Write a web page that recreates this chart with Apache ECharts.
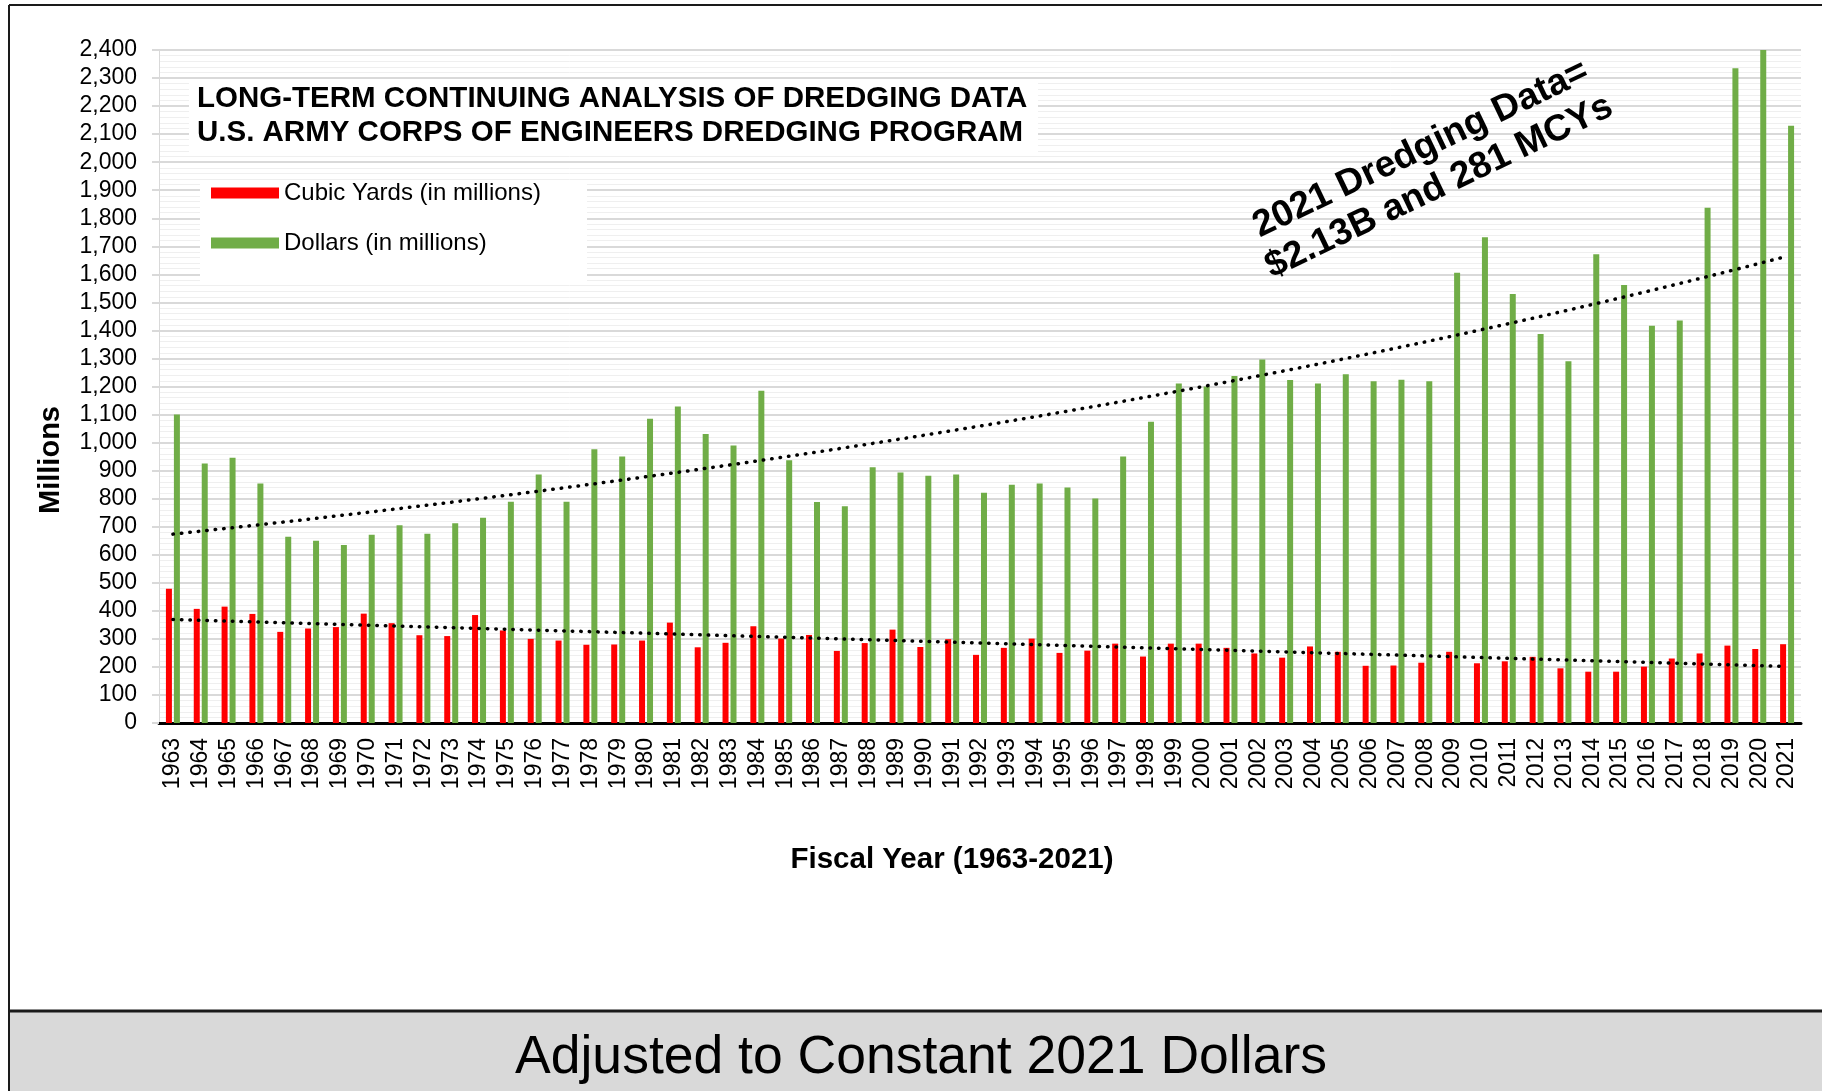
<!DOCTYPE html>
<html><head><meta charset="utf-8">
<script src="https://cdn.jsdelivr.net/npm/echarts@6/dist/echarts.min.js"></script>
<style>html,body{margin:0;padding:0;background:#fff}#c{width:1822px;height:1091px}</style>
</head><body><div id="c"></div>
<script>
const years = ['1963','1964','1965','1966','1967','1968','1969','1970','1971','1972','1973','1974','1975','1976','1977','1978','1979','1980','1981','1982','1983','1984','1985','1986','1987','1988','1989','1990','1991','1992','1993','1994','1995','1996','1997','1998','1999','2000','2001','2002','2003','2004','2005','2006','2007','2008','2009','2010','2011','2012','2013','2014','2015','2016','2017','2018','2019','2020','2021'];
const cubicYards = [479,407,415,389,325,337,342,390,356,313,310,385,330,300,294,279,280,294,358,270,286,345,301,314,257,285,333,271,299,243,268,301,250,258,283,237,283,283,268,248,233,273,254,204,205,215,254,213,220,236,195,183,183,201,230,248,276,264,281];
const dollars = [1100,925,946,854,664,650,635,671,705,675,712,732,789,886,789,976,950,1085,1129,1031,990,1185,937,788,773,912,893,882,886,821,850,854,840,801,950,1074,1211,1200,1237,1296,1223,1211,1244,1219,1224,1219,1606,1732,1530,1387,1290,1672,1562,1417,1435,1837,2335,2400,2130];
const yAxisMin = 0, yAxisMax = 2400, yAxisStep = 100;
const seriesNames = ['Cubic Yards (in millions)', 'Dollars (in millions)'];
const xAxisTitle = 'Fiscal Year (1963-2021)';
const yAxisTitle = 'Millions';
const titleLines = ['LONG-TERM CONTINUING ANALYSIS OF DREDGING DATA', 'U.S. ARMY CORPS OF ENGINEERS DREDGING PROGRAM'];
const noteLines = ['2021 Dredging Data=', '$2.13B and 281 MCYs'];
const footerText = 'Adjusted to Constant 2021 Dollars';

// Excel-style trendlines fitted from the data
function linearFit(ys){
  const n = ys.length; let sx=0, sy=0, sxx=0, sxy=0;
  ys.forEach((y,i)=>{sx+=i;sy+=y;sxx+=i*i;sxy+=i*y;});
  const b=(n*sxy-sx*sy)/(n*sxx-sx*sx), a=(sy-b*sx)/n;
  return ys.map((_,i)=>+(a+b*i).toFixed(2));
}
function expFit(ys){
  const ln = ys.map(Math.log); const n=ln.length; let sx=0, sy=0, sxx=0, sxy=0;
  ln.forEach((y,i)=>{sx+=i;sy+=y;sxx+=i*i;sxy+=i*y;});
  const b=(n*sxy-sx*sy)/(n*sxx-sx*sx), a=(sy-b*sx)/n;
  return ys.map((_,i)=>+Math.exp(a+b*i).toFixed(2));
}

const FF = '"Liberation Sans", Arial, sans-serif';
const chart = echarts.init(document.getElementById('c'));
const dotted = {color:'#000', width:3.5, type:[0.5,8], cap:'round'};
chart.setOption({
  animation:false,
  backgroundColor:'#fff',
  textStyle:{fontFamily:FF},
  grid:{left:159, right:21, top:50, bottom:368, containLabel:false},
  legend:{
    data:seriesNames, orient:'vertical', left:211, top:180, padding:0,
    itemWidth:68, itemHeight:11, itemGap:24, icon:'rect', selectedMode:false,
    textStyle:{fontSize:24, color:'#000', fontFamily:FF, lineHeight:26}
  },
  xAxis:{
    type:'category', data:years,
    axisLine:{lineStyle:{color:'#000', width:3}},
    axisTick:{show:false},
    axisLabel:{rotate:90, interval:0, fontSize:23, color:'#000', margin:15, fontFamily:FF}
  },
  yAxis:{
    type:'value', min:yAxisMin, max:yAxisMax, interval:yAxisStep,
    axisLine:{show:true, lineStyle:{color:'#d9d9d9', width:1}},
    axisTick:{show:true, length:7, lineStyle:{color:'#d9d9d9', width:2}},
    axisLabel:{fontSize:23, color:'#000', margin:22, fontFamily:FF,
      formatter:v=>v.toLocaleString('en-US')},
    splitLine:{lineStyle:{color:'#d9d9d9', width:2}},
    minorTick:{show:false, splitNumber:5},
    minorSplitLine:{show:true, lineStyle:{color:'#efefef', width:1}}
  },
  series:[
    {name:seriesNames[0], type:'bar', data:cubicYards, barWidth:6, barGap:'33%',
      itemStyle:{color:'#ff0000'}, z:2},
    {name:seriesNames[1], type:'bar', data:dollars, barWidth:6, barGap:'33%',
      itemStyle:{color:'#70ad47'}, z:2},
    {name:'trendCY', type:'line', data:linearFit(cubicYards), symbol:'none', lineStyle:dotted, z:4, silent:true},
    {name:'trendD', type:'line', data:expFit(dollars), symbol:'none', lineStyle:dotted, z:4, silent:true}
  ],
  graphic:[
    {type:'rect', z:1, shape:{x:189, y:79, width:849, height:74}, style:{fill:'#fff'}},
    {type:'text', z:5, x:197, y:99, style:{text:titleLines[0], fontSize:29.5, fontWeight:'bold', fill:'#000', fontFamily:FF, verticalAlign:'middle', textAlign:'left'}},
    {type:'text', z:5, x:197, y:133, style:{text:titleLines[1], fontSize:29.5, fontWeight:'bold', fill:'#000', fontFamily:FF, verticalAlign:'middle', textAlign:'left'}},
    {type:'rect', z:1, shape:{x:200, y:180, width:387, height:104}, style:{fill:'#fff'}},
    {type:'text', z:5, x:1430, y:168, rotation:25.6*Math.PI/180,
      style:{text:noteLines.join('\n'), fontSize:37, fontWeight:'bold', fill:'#000', fontFamily:FF, textAlign:'center', verticalAlign:'middle', lineHeight:42}},
    {type:'text', z:5, x:952, y:860, style:{text:xAxisTitle, fontSize:29.5, fontWeight:'bold', fill:'#000', fontFamily:FF, textAlign:'center', verticalAlign:'middle'}},
    {type:'text', z:5, x:51, y:460, rotation:Math.PI/2, style:{text:yAxisTitle, fontSize:29, fontWeight:'bold', fill:'#000', fontFamily:FF, textAlign:'center', verticalAlign:'middle'}},
    {type:'rect', z:1, shape:{x:9, y:1011, width:1813, height:80}, style:{fill:'#d9d9d9'}},
    {type:'line', z:6, shape:{x1:9, y1:1011, x2:1822, y2:1011}, style:{stroke:'#1a1a1a', lineWidth:3}},
    {type:'line', z:6, shape:{x1:9, y1:5, x2:1822, y2:5}, style:{stroke:'#1a1a1a', lineWidth:2}},
    {type:'line', z:6, shape:{x1:9, y1:5, x2:9, y2:1091}, style:{stroke:'#1a1a1a', lineWidth:2}},
    {type:'text', z:6, x:921, y:1058, style:{text:footerText, fontSize:53.5, fill:'#000', fontFamily:FF, textAlign:'center', verticalAlign:'middle'}}
  ]
});
</script></body></html>
